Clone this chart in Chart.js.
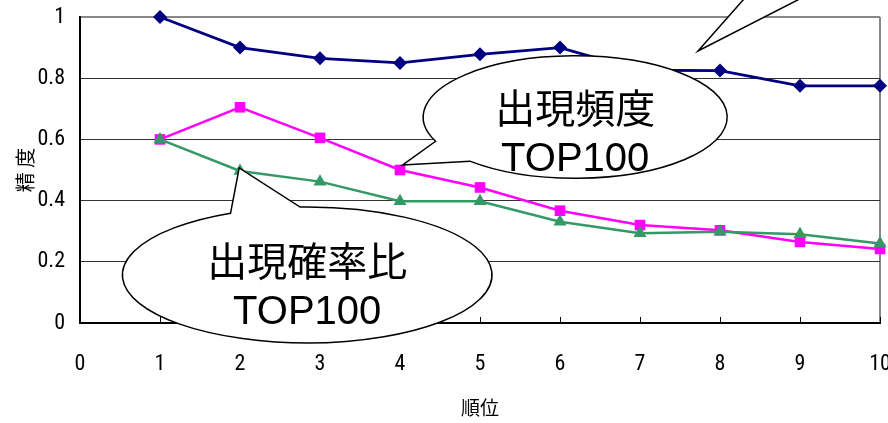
<!DOCTYPE html>
<html>
<head>
<meta charset="utf-8">
<script src="https://cdn.jsdelivr.net/npm/chart.js@4"></script>
<style>
  html, body { margin: 0; padding: 0; background: #fff; }
  #wrap { width: 888px; height: 423px; }
</style>
</head>
<body>
<div id="wrap"><canvas id="chart" width="888" height="423"></canvas></div>
<script>
// ranks on the x axis
const ranks = [1, 2, 3, 4, 5, 6, 7, 8, 9, 10];
const xTicks = [0, 1, 2, 3, 4, 5, 6, 7, 8, 9, 10];
const yTicks = [0, 0.2, 0.4, 0.6, 0.8, 1];

// precision per rank
const precisionTop = [1.0, 0.9, 0.865, 0.85, 0.878, 0.9, 0.826, 0.825, 0.775, 0.775];
const precisionFreq = [0.6, 0.705, 0.605, 0.5, 0.443, 0.367, 0.32, 0.303, 0.265, 0.242];
const precisionRatio = [0.6, 0.497, 0.462, 0.398, 0.398, 0.331, 0.293, 0.298, 0.29, 0.26];

const bubbleLabels = [
  ['出現頻度', 'TOP100'],
  ['出現確率比', 'TOP100'],
];

const tickFont = "'Roboto Condensed', 'DejaVu Sans', sans-serif";
const cjkFont = "'Noto Sans CJK JP', sans-serif";

function toPoints(values) {
  return ranks.map((r, i) => ({ x: r, y: values[i] }));
}

// speech bubbles, anchored in data units
const bubbles = [
  {
    text: bubbleLabels[0], cx: 6.19, cy: 0.673, rx: 1.9, ry: 0.2,
    tip: { x: 4.03, y: 0.516 }, a1: 133.9, a2: 156.7, lineOffsets: [-5, 43],
  },
  {
    text: bubbleLabels[1], cx: 2.84, cy: 0.157, rx: 2.31, ry: 0.222,
    tip: { x: 1.99, y: 0.507 }, a1: -114.5, a2: -92.2, lineOffsets: [-10, 38],
  },
];
// tail of a bubble that sits above the picture
const topTail = { tip: { x: 7.725, y: 0.889 }, b1: { x: 8.51, y: 1.121 }, b2: { x: 9.46, y: 1.121 } };

const calloutPlugin = {
  id: 'callouts',
  beforeDatasetsDraw(chart) {
    // inward tick marks on the x axis
    const { ctx, chartArea, scales } = chart;
    ctx.save();
    ctx.strokeStyle = '#000';
    ctx.lineWidth = 1;
    ranks.forEach((r) => {
      const px = Math.round(scales.x.getPixelForValue(r)) + 0.5;
      ctx.beginPath();
      ctx.moveTo(px, chartArea.bottom);
      ctx.lineTo(px, chartArea.bottom - 6);
      ctx.stroke();
    });
    ctx.restore();
  },
  afterDatasetsDraw(chart) {
    const { ctx, scales } = chart;
    const px = (v) => scales.x.getPixelForValue(v);
    const py = (v) => scales.y.getPixelForValue(v);
    ctx.save();
    ctx.lineWidth = 1.5;
    ctx.strokeStyle = '#000';

    bubbles.forEach((b) => {
      const cx = px(b.cx);
      const cy = py(b.cy);
      const rx = px(b.cx + b.rx) - cx;
      const ry = py(b.cy) - py(b.cy + b.ry);
      ctx.beginPath();
      ctx.moveTo(px(b.tip.x), py(b.tip.y));
      ctx.ellipse(cx, cy, rx, ry, 0, (b.a1 * Math.PI) / 180, (b.a2 * Math.PI) / 180, true);
      ctx.closePath();
      ctx.fillStyle = '#fff';
      ctx.fill();
      ctx.stroke();

      ctx.fillStyle = '#000';
      ctx.textAlign = 'center';
      ctx.textBaseline = 'middle';
      ctx.font = "40px 'Liberation Sans', 'Noto Sans CJK JP', sans-serif";
      b.text.forEach((line, i) => {
        ctx.fillText(line, cx, cy + b.lineOffsets[i]);
      });
    });

    // tail coming from outside the picture
    ctx.beginPath();
    ctx.moveTo(px(topTail.b1.x), py(topTail.b1.y));
    ctx.lineTo(px(topTail.tip.x), py(topTail.tip.y));
    ctx.lineTo(px(topTail.b2.x), py(topTail.b2.y));
    ctx.fillStyle = '#fff';
    ctx.fill();
    ctx.stroke();
    ctx.restore();
  },
};

function drawChart() {
  new Chart(document.getElementById('chart'), {
    type: 'line',
    data: {
      datasets: [
        {
          label: '',
          data: toPoints(precisionTop),
          borderColor: '#000080',
          backgroundColor: '#000080',
          borderWidth: 2.8,
          pointStyle: 'rectRot',
          pointRadius: 7,
          pointBorderWidth: 0,
          order: 2,
          clip: false,
        },
        {
          label: bubbleLabels[0].join(' '),
          data: toPoints(precisionFreq),
          borderColor: '#ff00ff',
          backgroundColor: '#ff00ff',
          borderWidth: 2.5,
          pointStyle: 'rect',
          pointRadius: 7.5,
          pointBorderWidth: 0,
          order: 1,
          clip: false,
        },
        {
          label: bubbleLabels[1].join(' '),
          data: toPoints(precisionRatio),
          borderColor: '#339966',
          backgroundColor: '#339966',
          borderWidth: 2.5,
          pointStyle: 'triangle',
          pointRadius: 7.5,
          pointBorderWidth: 0,
          order: 0,
          clip: false,
        },
      ],
    },
    options: {
      responsive: false,
      animation: false,
      layout: { padding: { top: 17, right: 8, left: 0, bottom: 0 } },
      plugins: {
        legend: { display: false },
        tooltip: { enabled: false },
      },
      elements: { line: { tension: 0 } },
      scales: {
        x: {
          type: 'linear',
          min: 0,
          max: 10,
          afterBuildTicks: (scale) => {
            scale.ticks = xTicks.map((v) => ({ value: v }));
          },
          afterFit: (scale) => {
            scale.height = 100;
            scale.paddingLeft = 0;
            scale.paddingRight = 0;
          },
          ticks: {
            color: '#000',
            padding: 28,
            font: { family: tickFont, size: 22 },
          },
          grid: {
            drawTicks: false,
            lineWidth: 2,
            color: (c) => (c.tick && c.tick.value === 10 ? '#888' : 'rgba(0,0,0,0)'),
          },
          border: { color: '#000', width: 2 },
          title: {
            display: true,
            text: '順位',
            color: '#000',
            font: { family: cjkFont, size: 19 },
            padding: { top: 0, bottom: 4 },
          },
        },
        y: {
          min: 0,
          max: 1,
          afterBuildTicks: (scale) => {
            scale.ticks = yTicks.map((v) => ({ value: v }));
          },
          afterFit: (scale) => {
            scale.width = 80;
            scale.paddingTop = 0;
            scale.paddingBottom = 0;
          },
          ticks: {
            color: '#000',
            padding: 15,
            font: { family: tickFont, size: 22 },
            callback: (v) => String(v),
          },
          grid: {
            drawTicks: false,
            color: (c) => (c.tick && c.tick.value === 1 ? '#888' : '#333'),
            lineWidth: (c) => (c.tick && c.tick.value === 1 ? 2 : 1),
          },
          border: { color: '#000', width: 2 },
          title: {
            display: true,
            text: '精 度',
            color: '#000',
            font: { family: cjkFont, size: 20 },
            padding: { top: 13, bottom: 0 },
          },
        },
      },
    },
    plugins: [calloutPlugin],
  });
}

Promise.all([
  document.fonts.load("22px 'Roboto Condensed'"),
  document.fonts.load("20px 'Noto Sans CJK JP'", '精度順位'),
]).then(drawChart, drawChart);
</script>
</body>
</html>
